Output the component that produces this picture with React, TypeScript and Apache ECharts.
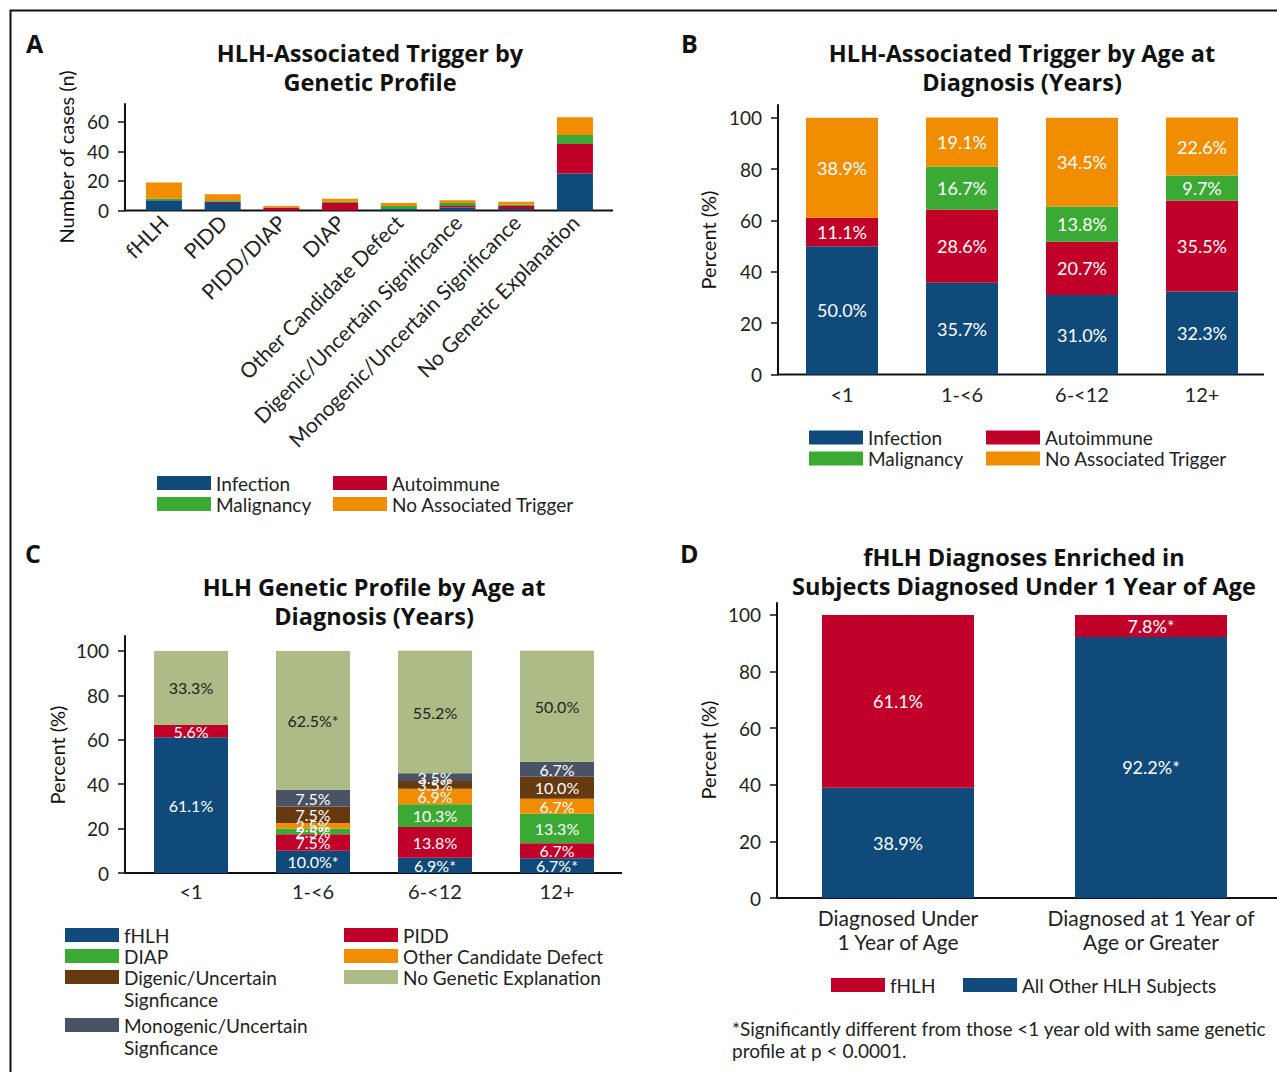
import React, { useEffect, useRef } from 'react';
import * as echarts from 'echarts';

// ---------- Panel A: trigger counts by genetic profile ----------
const profileCategories = [
  'fHLH',
  'PIDD',
  'PIDD/DIAP',
  'DIAP',
  'Other Candidate Defect',
  'Digenic/Uncertain Significance',
  'Monogenic/Uncertain Significance',
  'No Genetic Explanation',
];
const aInfection = [7, 5, 0, 0, 1, 2, 1, 25];
const aAutoimmune = [0, 1, 2, 5, 0, 1, 2, 20];
const aMalignancy = [1, 1, 0, 1, 2, 2, 1, 6];
const aNoTrigger = [11, 4, 1, 2, 2, 2, 2, 12];
const aTicks = [0, 20, 40, 60];

// ---------- Panel B: trigger % by age ----------
const ageCategories = ['<1', '1-<6', '6-<12', '12+'];
const bInfection = [50.0, 35.7, 31.0, 32.3];
const bAutoimmune = [11.1, 28.6, 20.7, 35.5];
const bMalignancy = [0, 16.7, 13.8, 9.7];
const bNoTrigger = [38.9, 19.1, 34.5, 22.6];
const pctTicks = [0, 20, 40, 60, 80, 100];

// ---------- Panel C: genetic profile % by age ----------
const cFHLH = [61.1, 10.0, 6.9, 6.7];
const cFHLHStars = ['', '*', '*', '*'];
const cPIDD = [5.6, 7.5, 13.8, 6.7];
const cDIAP = [0, 2.5, 10.3, 13.3];
const cOther = [0, 2.5, 6.9, 6.7];
const cDigenic = [0, 7.5, 3.5, 10.0];
const cMonogenic = [0, 7.5, 3.5, 6.7];
const cNoGenetic = [33.3, 62.5, 55.2, 50.0];
const cNoGeneticStars = ['', '*', '', ''];

// ---------- Panel D: fHLH enrichment ----------
const dCategories = ['Diagnosed Under\n1 Year of Age', 'Diagnosed at 1 Year of\nAge or Greater'];
const dAllOther = [38.9, 92.2];
const dAllOtherStars = ['', '*'];
const dFHLH = [61.1, 7.8];
const dFHLHStars = ['', '*'];

const BLUE = '#0f4a7b';
const RED = '#c1002a';
const GREEN = '#3baa35';
const ORANGE = '#f18d00';
const BROWN = '#663a10';
const SLATE = '#4a5266';
const OLIVE = '#adbb87';
const INK = '#222';
const AXIS = '#111';
const FONT = 'Lato';
const TITLE_FONT = 'Open Sans';

const fmt = (stars?: string[]) => (p: any) =>
  p.value ? `${Number(p.value).toFixed(1)}%${stars ? stars[p.dataIndex] : ''}` : '';

const label = (color: string, fontSize: number, stars?: string[]) => ({
  show: true,
  position: 'inside',
  color,
  fontSize,
  fontFamily: FONT,
  textBorderWidth: 0,
  formatter: fmt(stars),
});

const bar = (name: string, data: number[], color: string, idx: number, barWidth: number, lbl?: any) => ({
  type: 'bar',
  name,
  data,
  xAxisIndex: idx,
  yAxisIndex: idx,
  stack: 'stack' + idx,
  barWidth,
  itemStyle: { color },
  label: lbl || { show: false },
  emphasis: { disabled: true },
});

const yAxis = (gridIndex: number, max: number, ticks: number[], offset: number) => ({
  type: 'value',
  gridIndex,
  min: 0,
  max,
  offset,
  axisLine: { show: true, lineStyle: { color: AXIS, width: 2 } },
  axisTick: { show: true, inside: false, length: 7, lineStyle: { color: AXIS, width: 1.5 }, customValues: ticks },
  axisLabel: { show: true, color: INK, fontSize: 19, fontFamily: FONT, margin: 16, customValues: ticks },
  splitLine: { show: false },
});

const xAxis = (gridIndex: number, data: string[], extra: any = {}) => ({
  type: 'category',
  gridIndex,
  data,
  axisLine: { show: false },
  axisTick: { show: false },
  axisLabel: { color: INK, fontSize: 20, fontFamily: FONT, interval: 0, margin: 9, ...extra },
  splitLine: { show: false },
});

const legendBase = {
  orient: 'vertical',
  icon: 'rect',
  itemWidth: 54,
  itemHeight: 14,
  itemGap: 0,
  padding: 0,
  selectedMode: false,
  textStyle: { color: INK, fontSize: 19, fontFamily: FONT, lineHeight: 21 },
};

const firstLineLegend = {
  ...legendBase,
  formatter: (name: string) => name.replace(' Signficance', ''),
};

const txt = (
  text: string,
  x: number,
  y: number,
  size: number,
  bold = false,
  align = 'center',
  rotation = 0,
  family = FONT,
  fill = '#111'
) => ({
  type: 'text',
  x,
  y,
  rotation,
  silent: true,
  style: {
    text,
    fill,
    fontSize: size,
    fontWeight: bold ? 'bold' : 'normal',
    fontFamily: family,
    align,
    verticalAlign: 'middle',
  },
});

const title = (text: string, x: number, y: number) => txt(text, x, y, 23.5, true, 'center', 0, TITLE_FONT);

const hline = (x1: number, x2: number, y: number) => ({
  type: 'line',
  silent: true,
  shape: { x1, y1: y, x2, y2: y },
  style: { stroke: AXIS, lineWidth: 2 },
});

const option: any = {
  animation: false,
  backgroundColor: '#fff',
  textStyle: { fontFamily: FONT },
  grid: [
    { left: 134.6, top: 104, width: 469.7, height: 106.5, outerBoundsMode: 'none' },
    { left: 782, top: 105, width: 480, height: 269.5, outerBoundsMode: 'none' },
    { left: 130, top: 636, width: 488, height: 237, outerBoundsMode: 'none' },
    { left: 771.5, top: 603, width: 506, height: 295, outerBoundsMode: 'none' },
  ],
  xAxis: [
    xAxis(0, profileCategories, { rotate: 45, margin: 8, fontSize: 21 }),
    xAxis(1, ageCategories),
    xAxis(2, ageCategories, { margin: 8 }),
    xAxis(3, dCategories, { lineHeight: 24, margin: 7, fontSize: 21 }),
  ],
  yAxis: [
    yAxis(0, 72, aTicks, 9.6),
    yAxis(1, 105, pctTicks, 4),
    yAxis(2, 106.75, pctTicks, 5),
    yAxis(3, 104.2, pctTicks, -5.5),
  ],
  legend: [
    { ...legendBase, left: 157, top: 472.5, data: ['Infection', 'Malignancy'] },
    { ...legendBase, left: 333, top: 472.5, data: ['Autoimmune', 'No Associated Trigger'] },
    { ...legendBase, left: 809, top: 427, data: ['Infection', 'Malignancy'] },
    { ...legendBase, left: 986, top: 427, data: ['Autoimmune', 'No Associated Trigger'] },
    { ...legendBase, left: 65, top: 924.5, data: ['fHLH', 'DIAP'] },
    { ...firstLineLegend, left: 65, top: 966.5, data: ['Digenic/Uncertain Signficance'] },
    { ...firstLineLegend, left: 65, top: 1014.5, data: ['Monogenic/Uncertain Signficance'] },
    { ...legendBase, left: 344, top: 924.5, data: ['PIDD', 'Other Candidate Defect', 'No Genetic Explanation'] },
    { ...legendBase, left: 831, top: 974.5, data: [{ name: 'fHLH', itemStyle: { color: RED } }] },
    { ...legendBase, left: 963, top: 974.5, data: [{ name: 'All Other HLH Subjects', itemStyle: { color: BLUE } }] },
  ],
  series: [
    bar('Infection', aInfection, BLUE, 0, 36),
    bar('Autoimmune', aAutoimmune, RED, 0, 36),
    bar('Malignancy', aMalignancy, GREEN, 0, 36),
    bar('No Associated Trigger', aNoTrigger, ORANGE, 0, 36),

    bar('Infection', bInfection, BLUE, 1, 72, label('#fff', 18)),
    bar('Autoimmune', bAutoimmune, RED, 1, 72, label('#fff', 18)),
    bar('Malignancy', bMalignancy, GREEN, 1, 72, label('#fff', 18)),
    bar('No Associated Trigger', bNoTrigger, ORANGE, 1, 72, label('#fff', 18)),

    bar('fHLH', cFHLH, BLUE, 2, 74, label('#fff', 16, cFHLHStars)),
    bar('PIDD', cPIDD, RED, 2, 74, label('#fff', 16)),
    bar('DIAP', cDIAP, GREEN, 2, 74, label('#fff', 16)),
    bar('Other Candidate Defect', cOther, ORANGE, 2, 74, label('#fff', 16)),
    bar('Digenic/Uncertain Signficance', cDigenic, BROWN, 2, 74, label('#fff', 16)),
    bar('Monogenic/Uncertain Signficance', cMonogenic, SLATE, 2, 74, label('#fff', 16)),
    bar('No Genetic Explanation', cNoGenetic, OLIVE, 2, 74, label('#222', 16, cNoGeneticStars)),

    bar('All Other HLH Subjects', dAllOther, BLUE, 3, 152, label('#fff', 18, dAllOtherStars)),
    bar('fHLH', dFHLH, RED, 3, 152, label('#fff', 18, dFHLHStars)),
  ],
  graphic: [
    {
      type: 'polyline',
      silent: true,
      shape: { points: [[1277, 10.5], [10.5, 10.5], [10.5, 1072]] },
      style: { stroke: '#111', lineWidth: 2, fill: null },
    },
    txt('A', 26, 43, 25, true, 'left', 0, TITLE_FONT),
    txt('B', 681, 43, 25, true, 'left', 0, TITLE_FONT),
    txt('C', 25, 553, 25, true, 'left', 0, TITLE_FONT),
    txt('D', 680, 553, 25, true, 'left', 0, TITLE_FONT),

    title('HLH-Associated Trigger by', 370, 53),
    title('Genetic Profile', 370, 82),
    title('HLH-Associated Trigger by Age at', 1022, 53),
    title('Diagnosis (Years)', 1022, 82),
    title('HLH Genetic Profile by Age at', 374, 587),
    title('Diagnosis (Years)', 374, 616),
    title('fHLH Diagnoses Enriched in', 1024, 557),
    title('Subjects Diagnosed Under 1 Year of Age', 1024, 586),

    txt('Number of cases (n)', 66, 157, 20, false, 'center', Math.PI / 2),
    txt('Percent (%)', 708, 240, 20, false, 'center', Math.PI / 2),
    txt('Percent (%)', 57, 755, 20, false, 'center', Math.PI / 2),
    txt('Percent (%)', 708, 750, 20, false, 'center', Math.PI / 2),

    txt('Signficance', 124, 999, 19, false, 'left', 0, FONT, INK),
    txt('Signficance', 124, 1047, 19, false, 'left', 0, FONT, INK),

    hline(125, 613, 210.5),
    hline(778, 1264, 374.5),
    hline(125, 622, 873),
    hline(777, 1277, 898),

    txt('*Significantly different from those <1 year old with same genetic', 732, 1028, 19, false, 'left', 0, FONT, INK),
    txt('profile at p < 0.0001.', 732, 1050, 19, false, 'left', 0, FONT, INK),
  ],
};

export default function App() {
  const ref = useRef<HTMLDivElement>(null);
  useEffect(() => {
    const chart = echarts.init(ref.current!, null, { renderer: 'svg' });
    chart.setOption(option);
    return () => chart.dispose();
  }, []);
  return (
    <div
      ref={ref}
      style={{ position: 'absolute', left: 0, top: 0, width: 1277, height: 1072, background: '#fff' }}
    />
  );
}
